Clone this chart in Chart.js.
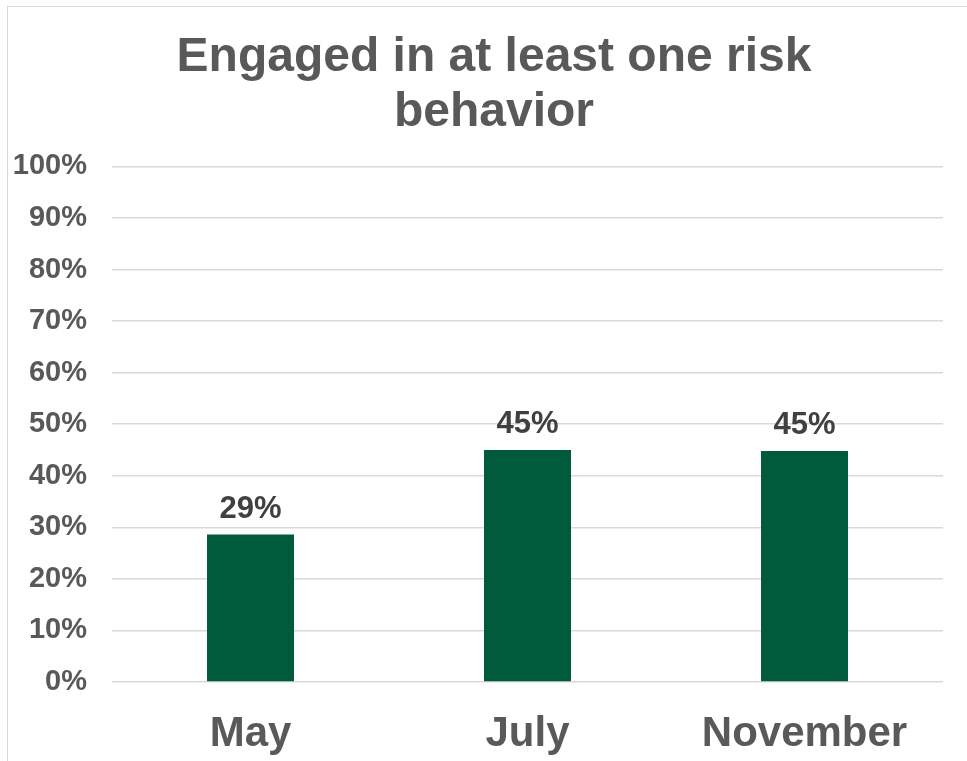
<!DOCTYPE html>
<html>
<head>
<meta charset="utf-8">
<script src="https://cdn.jsdelivr.net/npm/chart.js@4.4.1/dist/chart.umd.min.js"></script>
<style>
    html, body { margin: 0; padding: 0; background: #fff; overflow: hidden; }
    #frame {
        position: absolute; left: 7px; top: 6px;
        width: 975px; height: 780px;
        border-left: 1px solid #d9d9d9; border-top: 1px solid #d9d9d9;
    }
    #wrap { position: absolute; left: 0; top: 0; width: 972px; height: 760px; }
</style>
</head>
<body>
<div id="frame"><div id="wrap"><canvas id="riskChart"></canvas></div></div>
<script>
// survey months and share of respondents with at least one risk behavior (%)
const months = ['May', 'July', 'November'];
const riskShare = [28.6, 45.0, 44.8];
const yTicks = [0, 10, 20, 30, 40, 50, 60, 70, 80, 90, 100];

const grey = '#595959';
const font = 'Liberation Sans, Arial, sans-serif';

// draws the rounded percentage just above each bar
const barValueLabels = {
    id: 'barValueLabels',
    afterDatasetsDraw(chart) {
        const ctx = chart.ctx;
        const meta = chart.getDatasetMeta(0);
        ctx.save();
        ctx.font = 'bold 31px ' + font;
        ctx.fillStyle = '#404040';
        ctx.textAlign = 'center';
        ctx.textBaseline = 'alphabetic';
        meta.data.forEach(function(bar, i) {
            ctx.fillText(Math.round(riskShare[i]) + '%', bar.x, bar.y - 17);
        });
        ctx.restore();
    }
};

const ctx = document.getElementById('riskChart').getContext('2d');
const riskChart = new Chart(ctx, {
    type: 'bar',
    data: {
        labels: months,
        datasets: [{
            data: riskShare,
            backgroundColor: '#005a3c',
            borderWidth: 0,
            categoryPercentage: 1,
            barPercentage: 0.314
        }]
    },
    options: {
        responsive: true,
        maintainAspectRatio: false,
        animation: false,
        plugins: {
            legend: { display: false },
            tooltip: { enabled: false },
            title: {
                display: true,
                text: ['Engaged in at least one risk', 'behavior'],
                color: grey,
                font: { family: font, size: 48, weight: 'bold', lineHeight: 1.15 },
                padding: { top: 23, bottom: 26 }
            }
        },
        scales: {
            y: {
                min: 0,
                max: 100,
                afterBuildTicks(scale) {
                    scale.ticks = yTicks.map(v => ({ value: v }));
                },
                afterFit(scale) { scale.width = 104; },
                border: { display: false },
                grid: { color: '#d9d9d9', lineWidth: 1.5, drawTicks: false },
                ticks: {
                    padding: 25,
                    color: grey,
                    font: { family: font, size: 29, weight: 'bold' },
                    callback: v => v + '%'
                }
            },
            // empty strip on the right so the plot stops short of the edge
            gutter: {
                position: 'right',
                afterFit(scale) { scale.width = 37; },
                border: { display: false },
                grid: { display: false },
                ticks: { display: false }
            },
            x: {
                afterFit(scale) { scale.height = 85; },
                border: { display: false },
                grid: { display: false },
                ticks: {
                    padding: 19,
                    color: grey,
                    font: { family: font, size: 42, weight: 'bold' }
                }
            }
        }
    },
    plugins: [barValueLabels]
});
</script>
</body>
</html>
